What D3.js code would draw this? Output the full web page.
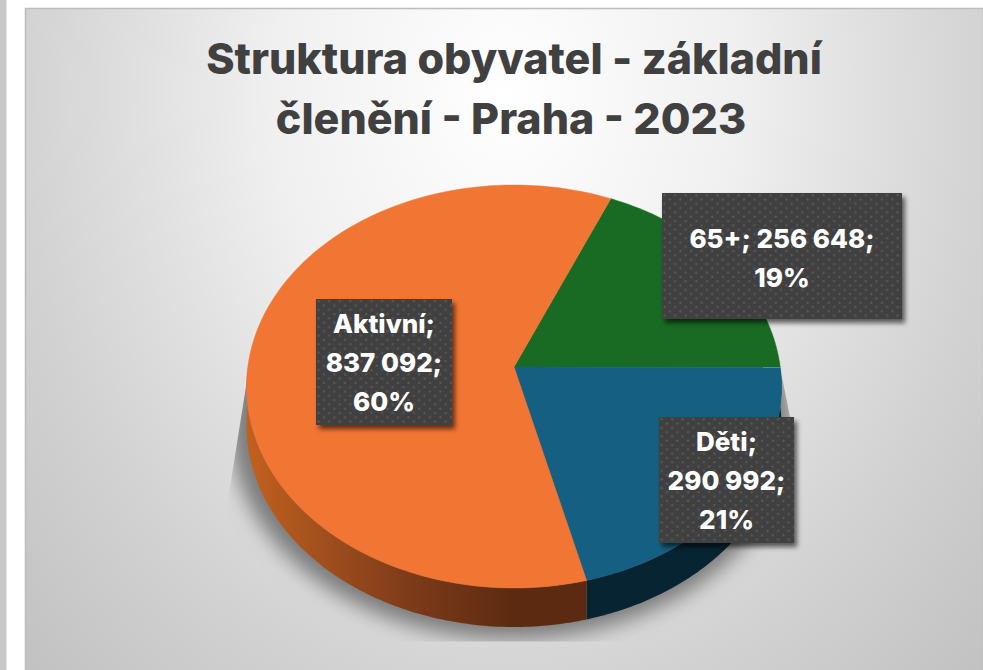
<!DOCTYPE html>
<html>
<head>
<meta charset="utf-8">
<style>
  html, body { margin: 0; padding: 0; background: #fff; overflow: hidden; }
  svg { display: block; }
  text { font-family: Inter, "Noto Sans", sans-serif; font-weight: 700; }
</style>
</head>
<body>
<div id="chart"></div>
<script src="https://cdn.jsdelivr.net/npm/d3@7"></script>
<script>
'use strict';

const titleLines = ['Struktura obyvatel - základní', 'členění - Praha - 2023'];
const categories = ['65+', 'Děti', 'Aktivní'];
const values = [256648, 290992, 837092];
const sliceColors = ['#196b24', '#156082', '#f17533'];

const width = 983;
const height = 670;

// pie is drawn in perspective: hub and rim centre do not coincide
const hubX = 514;
const hubY = 367;
const radiusX = 266.2;
const radiusY = 199.6;
const tilt = 0.0968;
const thickness = 39;
const startAngle = 0.407;

const project = (angle, r = 1) => {
  const c = Math.sin(angle) * r;
  const s = -Math.cos(angle) * r;
  const w = 1 - tilt * s;
  return [hubX + radiusX * c / w, hubY + radiusY * s / w];
};

const $svg = d3.select('#chart').append('svg')
  .attr('width', width)
  .attr('height', height);
const $defs = $svg.append('defs');

const bg = $defs.append('radialGradient')
  .attr('id', 'panelFill')
  .attr('gradientUnits', 'userSpaceOnUse')
  .attr('cx', 0).attr('cy', 0).attr('r', 1)
  .attr('gradientTransform', 'translate(505,95) scale(660,820)');
[[0, '#ffffff'], [0.35, '#f0f0f0'], [0.55, '#e0e0e0'], [0.74, '#d2d2d2'], [1, '#c2c2c2']]
  .forEach(([o, c]) => bg.append('stop').attr('offset', o).attr('stop-color', c));

const wallGradient = (id, stops) => {
  const g = $defs.append('linearGradient')
    .attr('id', id)
    .attr('gradientUnits', 'userSpaceOnUse')
    .attr('x1', 250).attr('x2', 560).attr('y1', 0).attr('y2', 0);
  stops.forEach(([o, c]) => g.append('stop').attr('offset', o).attr('stop-color', c));
};
wallGradient('wallOrange', [[0, '#c0601f'], [0.5, '#7f3c1a'], [0.85, '#5c2a11'], [1, '#5c2a11']]);

$defs.append('filter').attr('id', 'pieShadow')
  .attr('x', '-20%').attr('y', '-20%').attr('width', '140%').attr('height', '140%')
  .append('feGaussianBlur').attr('stdDeviation', 10);

const boxShadow = $defs.append('filter').attr('id', 'boxShadow')
  .attr('x', '-10%').attr('y', '-10%').attr('width', '125%').attr('height', '125%');
boxShadow.append('feGaussianBlur').attr('stdDeviation', 2.5);

const dots = $defs.append('pattern').attr('id', 'dots')
  .attr('patternUnits', 'userSpaceOnUse')
  .attr('width', 10.6).attr('height', 8.6);
dots.append('rect').attr('width', 10.6).attr('height', 8.6).attr('fill', '#404040');
dots.append('rect').attr('x', 1.5).attr('y', 1.2).attr('width', 2).attr('height', 2).attr('fill', '#5a5a5a');
dots.append('rect').attr('x', 6.8).attr('y', 5.5).attr('width', 2).attr('height', 2).attr('fill', '#5a5a5a');

$defs.append('clipPath').attr('id', 'shadowClip')
  .append('polygon')
  .attr('points', '247,380 228,500 228,641.5 800,641.5 790,417 781,372');

// page furniture
$svg.append('rect').attr('x', 0).attr('y', 0).attr('width', 6.5).attr('height', height).attr('fill', '#c8c8c8');
$svg.append('rect')
  .attr('x', 25.5).attr('y', 8.5).attr('width', width - 25).attr('height', height)
  .attr('fill', 'url(#panelFill)')
  .attr('stroke', '#bdbdbd')
  .attr('stroke-width', 1.5);

const $title = $svg.append('g').attr('class', 'title');
$title.selectAll('text')
  .data(titleLines)
  .enter()
  .append('text')
  .attr('x', (d, i) => 514 - i * 3)
  .attr('y', (d, i) => 74 + i * 60)
  .attr('text-anchor', 'middle')
  .attr('font-size', 43)
  .style('font-weight', 800)
  .attr('fill', '#404040')
  .text((d) => d);

const pie = d3.pie()
  .sort(null)
  .startAngle(startAngle)
  .endAngle(startAngle + Math.PI * 2);
const arcs = pie(values);
const line = d3.line();

const rimPoints = (a0, a1, r) => d3.range(0, 121).map((i) => project(a0 + (a1 - a0) * i / 120, r));

// soft ground shadow, follows the underside of the pie
const fullRim = rimPoints(0, Math.PI * 2).map(([x, y]) => [
  hubX + (x - hubX) * 1.05 - 3,
  hubY + (y - hubY) * 1.05 + thickness + 1
]);
$svg.append('g').attr('clip-path', 'url(#shadowClip)')
  .append('path')
  .attr('d', line(fullRim) + 'Z')
  .attr('fill', '#7c7c7c')
  .attr('filter', 'url(#pieShadow)');

// side wall, only the front half of the rim is visible
const wallFills = { 'Děti': '#072432', 'Aktivní': 'url(#wallOrange)' };
const $walls = $svg.append('g').attr('class', 'walls');
arcs.forEach((d, i) => {
  const name = categories[i];
  if(!wallFills[name]) return;
  const from = Math.max(d.startAngle, Math.PI / 2);
  const to = Math.min(d.endAngle, Math.PI * 1.5);
  const top = rimPoints(from, to);
  const bottom = top.map(([x, y]) => [x, y + thickness]).reverse();
  $walls.append('path')
    .attr('d', line(top.concat(bottom)) + 'Z')
    .attr('fill', wallFills[name]);
});

// top face
$svg.append('g').attr('class', 'slices')
  .selectAll('path')
  .data(arcs)
  .enter()
  .append('path')
  .attr('d', (d) => line([[hubX, hubY]].concat(rimPoints(d.startAngle, d.endAngle))) + 'Z')
  .attr('fill', (d, i) => sliceColors[i])
  .attr('stroke', (d, i) => sliceColors[i])
  .attr('stroke-width', 0.5);

// labels
const numberFormat = d3.formatLocale({ decimal: ',', thousands: ' ', grouping: [3], currency: ['', ''] }).format(',d');
const percentFormat = d3.format('.0%');
const total = d3.sum(values);

const labelBoxes = {
  '65+': { x: 662, y: 193, w: 240, h: 126, lines: (n, v, p) => [`${n}; ${v};`, p] },
  'Děti': { x: 659, y: 417, w: 135, h: 126, lines: (n, v, p) => [`${n};`, `${v};`, p] },
  'Aktivní': { x: 316, y: 299, w: 136, h: 126, lines: (n, v, p) => [`${n};`, `${v};`, p] }
};

const $labels = $svg.append('g').attr('class', 'labels');
categories.forEach((name, i) => {
  const b = labelBoxes[name];
  const rows = b.lines(name, numberFormat(values[i]), percentFormat(values[i] / total));
  const $g = $labels.append('g').attr('transform', `translate(${b.x},${b.y})`);
  $g.append('rect')
    .attr('x', 3).attr('y', 4)
    .attr('width', b.w).attr('height', b.h)
    .attr('fill', '#000')
    .attr('fill-opacity', 0.6)
    .attr('filter', 'url(#boxShadow)');
  $g.append('rect')
    .attr('width', b.w).attr('height', b.h)
    .attr('fill', 'url(#dots)');
  const firstBaseline = b.h / 2 - (rows.length - 1) * 19.5 + (rows.length === 2 ? 11 : 9.5);
  $g.selectAll('text')
    .data(rows)
    .enter()
    .append('text')
    .attr('x', b.w / 2)
    .attr('y', (d, j) => firstBaseline + j * 39)
    .attr('text-anchor', 'middle')
    .attr('font-size', 26)
    .style('font-weight', 800)
    .attr('fill', '#ffffff')
    .text((d) => d);
});
</script>
</body>
</html>
